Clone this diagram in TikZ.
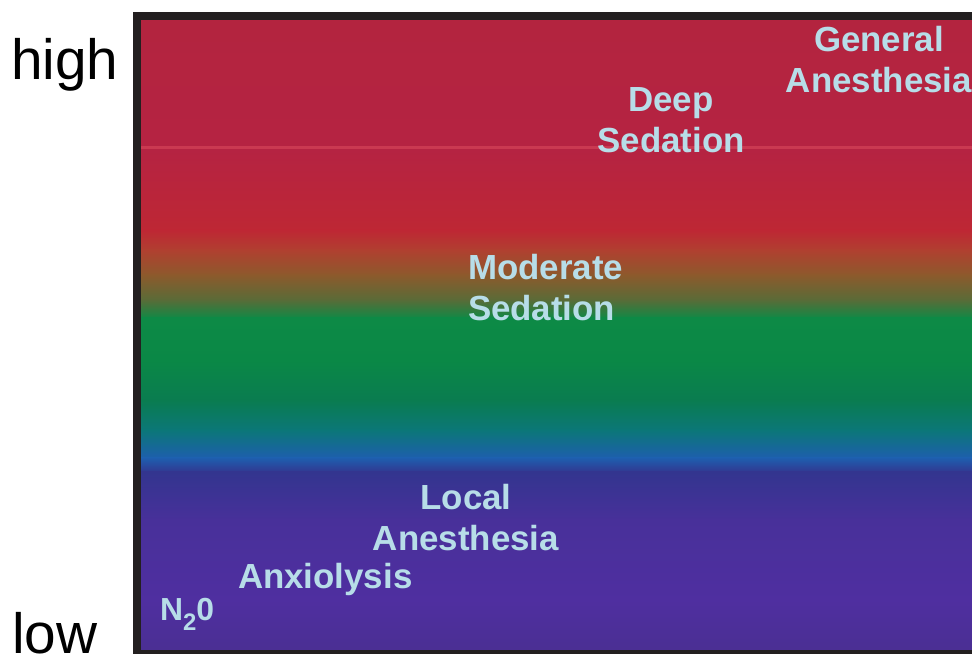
\documentclass[tikz,border=0pt]{standalone}
\usepackage{fontspec}
\setmainfont{Liberation Sans}
\definecolor{sdframe}{HTML}{231F20}
\definecolor{sdlabel}{HTML}{B7DDE8}
\definecolor{sdglint}{HTML}{D9485C}
\definecolor{sdA}{HTML}{B3243F}
\definecolor{sdB}{HTML}{B52342}
\definecolor{sdC}{HTML}{BE2734}
\definecolor{sdD}{HTML}{B04030}
\definecolor{sdE}{HTML}{8C5A2C}
\definecolor{sdF}{HTML}{586C38}
\definecolor{sdG}{HTML}{0D8A46}
\definecolor{sdH}{HTML}{0A8846}
\definecolor{sdI}{HTML}{0A7C50}
\definecolor{sdJ}{HTML}{0B7778}
\definecolor{sdK}{HTML}{1E5EAE}
\definecolor{sdL}{HTML}{33358F}
\definecolor{sdM}{HTML}{48309A}
\definecolor{sdN}{HTML}{4F2FA0}
\definecolor{sdO}{HTML}{4A2F92}

\begin{document}
\begin{tikzpicture}[
  x=1bp, y=1bp,
  every node/.style={inner sep=0pt, outer sep=0pt},
  frame/.style={draw=sdframe, line width=8bp},
  glint/.style={draw=sdglint, line width=3bp, opacity=0.6},
  lvl/.style={font=\bfseries\fontsize{35}{41}\selectfont, text=sdlabel},
  axis/.style={font=\fontsize{57}{57}\selectfont, text=black},
]

\useasboundingbox (0,0) rectangle (972,654);
\clip (0,0) rectangle (972,654);

% inner edges of the box
\def\L{141}\def\R{972}

% ---------- colour bands, top to bottom ----------
\foreach \ya/\ca/\yb/\cb in {634/sdA/504/sdB, 504/sdB/424/sdC, 424/sdC/404/sdD,
                             404/sdD/379/sdE, 379/sdE/354/sdF, 354/sdF/336/sdG,
                             336/sdG/294/sdH, 294/sdH/254/sdI, 254/sdI/224/sdJ,
                             224/sdJ/196/sdK, 196/sdK/182/sdL, 182/sdL/134/sdM,
                             134/sdM/54/sdN, 54/sdN/0/sdO}{
  \shade[top color=\ca, bottom color=\cb] (\L,\yb-1) rectangle (\R,\ya);
}
\draw[glint] (\L,506) -- (\R,506);

% ---------- frame ----------
\draw[frame] (137,0) rectangle (990,638);

% ---------- scale ----------
\node[axis, anchor=base west] (high) at (11,574) {high};
\node[axis, anchor=base west] (low)  at (12,0)   {low};

% ---------- levels ----------
\node[lvl, align=center, anchor=north] (general) at (879,628)
  {General\\Anesthesia};
\node[lvl, align=center, anchor=north] (deep) at (671,566)
  {Deep\\Sedation};
\node[lvl, align=left, anchor=north west] (moderate) at (468,399.5)
  {Moderate\\Sedation};
\node[lvl, align=center, anchor=north] (local) at (466,169.5)
  {Local\\Anesthesia};
\node[lvl, anchor=base west] (anxio) at (238,65.5) {Anxiolysis};
\node[lvl, font=\bfseries\fontsize{32}{32}\selectfont, anchor=base west] (nitrous) at (160,33)
  {N\raisebox{-10bp}{\fontsize{24}{24}\selectfont 2}0};

\end{tikzpicture}
\end{document}
